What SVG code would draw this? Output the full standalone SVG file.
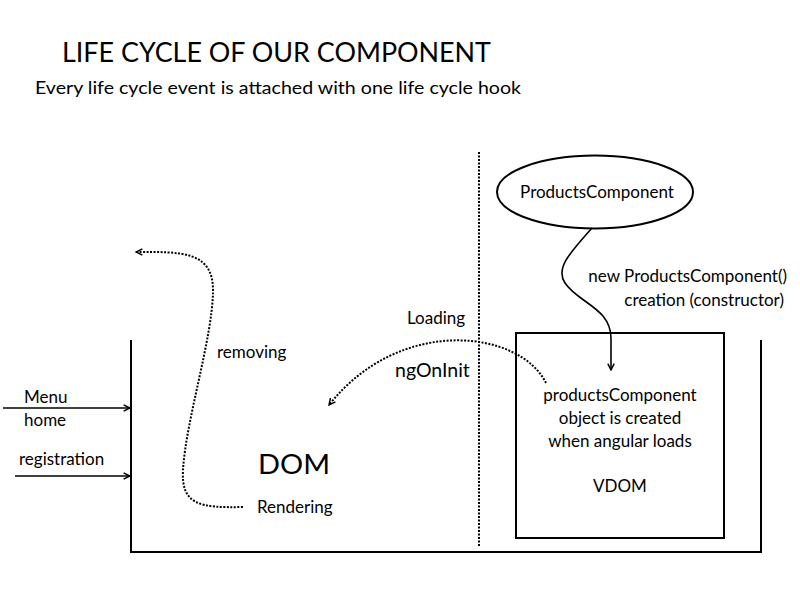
<svg xmlns="http://www.w3.org/2000/svg" width="800" height="600" viewBox="0 0 800 600">
<style>
text{font-family:Lato,"Open Sans","Liberation Sans",sans-serif;fill:#000}
.t{font-size:17px}
.c{text-anchor:middle}
.solid{fill:none;stroke:#000;stroke-width:2}
.dot{fill:none;stroke:#000;stroke-width:2;stroke-dasharray:2 1.5}
.thin{fill:none;stroke:#000;stroke-width:1.6}
</style>
<defs>
<marker id="ah" viewBox="0 0 10 10" refX="9" refY="5" markerWidth="8" markerHeight="8" markerUnits="userSpaceOnUse" orient="auto">
<path d="M1,1 L9,5 L1,9" fill="none" stroke="#000" stroke-width="1.8"/>
</marker>
</defs>
<rect width="800" height="600" fill="#fff"/>
<g id="title">
<text x="62" y="62" font-size="27" textLength="429" lengthAdjust="spacingAndGlyphs">LIFE CYCLE OF OUR COMPONENT</text>
<text x="35" y="94" font-size="18" textLength="486" lengthAdjust="spacingAndGlyphs">Every life cycle event is attached with one life cycle hook</text>
</g>
<g id="dom-container">
<path class="solid" d="M131,340 V552 H761 V340"/>
<text x="258" y="474" font-size="27" textLength="72" lengthAdjust="spacingAndGlyphs">DOM</text>
</g>
<g id="divider">
<line class="dot" x1="479" y1="152" x2="479" y2="546"/>
</g>
<g id="products-component">
<ellipse cx="595" cy="192" rx="98" ry="36.5" fill="#fff" stroke="#000" stroke-width="2"/>
<text class="t c" x="597" y="198">ProductsComponent</text>
</g>
<g id="vdom-box">
<rect x="516" y="333" width="208" height="205" fill="none" stroke="#000" stroke-width="2"/>
<text class="t c" x="620" y="401">productsComponent</text>
<text class="t c" x="620" y="424">object is created</text>
<text class="t c" x="620" y="447">when angular loads</text>
<text class="t c" x="620" y="492">VDOM</text>
</g>
<g id="connectors">
<path class="thin" d="M592,228 C570,253 555,268 565,283 C578,303 612,308 611,340 L611,370" marker-end="url(#ah)"/>
<path class="dot" d="M546,383 C520,330 400,315 329,405" marker-end="url(#ah)"/>
<path class="dot" d="M243,507 C200,508 181,505 183,470 C186,420 212,340 213,292 C214,250 180,252 136,252" marker-end="url(#ah)"/>
<line class="thin" x1="3" y1="408" x2="130" y2="408" marker-end="url(#ah)"/>
<line class="thin" x1="15" y1="476" x2="130" y2="476" marker-end="url(#ah)"/>
</g>
<g id="labels">
<text class="t" x="24" y="403">Menu</text>
<text class="t" x="24" y="426">home</text>
<text class="t" x="19" y="465">registration</text>
<text class="t" x="217" y="358">removing</text>
<text class="t" x="257" y="513">Rendering</text>
<text class="t" x="407" y="324">Loading</text>
<text x="395" y="377" font-size="19.5">ngOnInit</text>
<text class="t" x="787" y="282" text-anchor="end">new ProductsComponent()</text>
<text class="t" x="784" y="306" text-anchor="end">creation (constructor)</text>
</g>
</svg>
